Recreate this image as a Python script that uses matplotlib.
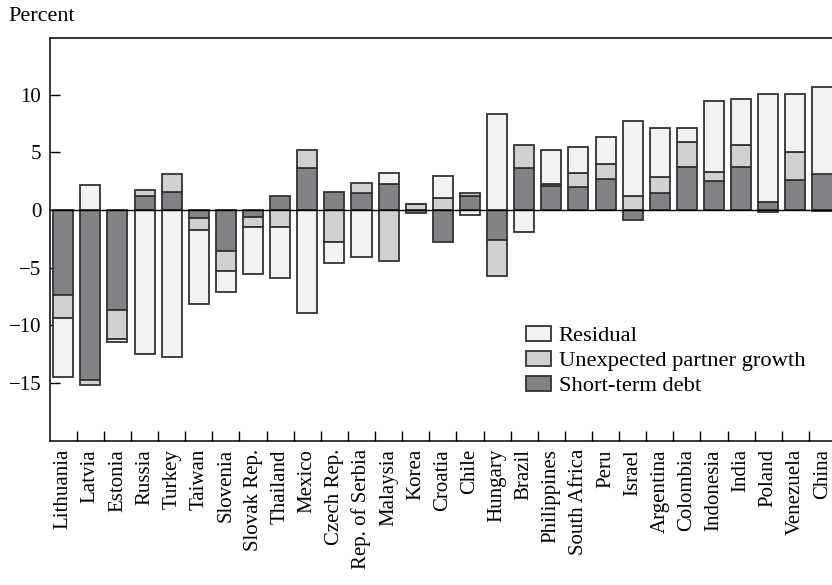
import numpy as np
import matplotlib.pyplot as plt
from matplotlib.patches import Patch

plt.rcParams['font.family'] = ['Liberation Serif', 'DejaVu Serif']
plt.rcParams['font.size'] = 15

countries = ["Lithuania", "Latvia", "Estonia", "Russia", "Turkey", "Taiwan", "Slovenia",
             "Slovak Rep.", "Thailand", "Mexico", "Czech Rep.", "Rep. of Serbia", "Malaysia",
             "Korea", "Croatia", "Chile", "Hungary", "Brazil", "Philippines", "South Africa",
             "Peru", "Israel", "Argentina", "Colombia", "Indonesia", "India", "Poland",
             "Venezuela", "China"]

short_term_debt = [-7.37, -14.73, -8.67, 1.24, 1.56, -0.72, -3.53, -0.58, 1.18, 3.61,
                   1.53, 1.50, 2.25, -0.23, -2.75, 1.22, -2.63, 3.61, 2.08, 2.02,
                   2.69, -0.84, 1.45, 3.76, 2.54, 3.76, 0.72, 2.60, 3.12]
partner_growth = [-1.96, -0.44, -2.55, 0.49, 1.56, -1.01, -1.79, -0.87, -1.45, 1.56,
                  -2.75, 0.81, -4.39, 0.52, 1.04, 0.28, -3.09, 2.03, 0.17, 1.22,
                  1.33, 1.18, 1.44, 2.11, 0.78, 1.85, -0.20, 2.46, -0.08]
residual = [-5.12, 2.20, -0.20, -12.49, -12.72, -6.45, -1.82, -4.10, -4.45, -8.93,
            -1.87, -4.05, 0.93, 0.0, 1.96, -0.45, 8.32, -1.88, 2.95, 2.22,
            2.34, 6.51, 4.22, 1.27, 6.16, 4.04, 9.37, 4.97, 7.52]

y_ticks = [-15, -10, -5, 0, 5, 10]

# couleurs et ordre d'empilement (le plus proche de zero d'abord)
series = [("Short-term debt", short_term_debt, "#818285"),
          ("Unexpected partner growth", partner_growth, "#d0d1d3"),
          ("Residual", residual, "#f1f2f4")]
EDGE = "#333333"

fig = plt.figure(figsize=(8.32, 5.85), dpi=100)
ax = fig.add_axes([0.0597, 0.2467, 0.9452, 0.6878])

x = np.arange(len(countries))
pos = np.zeros(len(countries))
neg = np.zeros(len(countries))
for name, vals, col in series:
    v = np.array(vals)
    bottom = np.where(v >= 0, pos, neg)
    ax.bar(x, v, bottom=bottom, width=0.74, color=col, edgecolor=EDGE, linewidth=1.3, zorder=2)
    pos = pos + np.where(v >= 0, v, 0)
    neg = neg + np.where(v < 0, v, 0)

ax.axhline(0, color="black", linewidth=1.0, zorder=3)

ax.set_xlim(-0.5, len(countries) - 0.5)
ax.set_ylim(-20, 14.9)

# ticks aux frontieres, etiquettes au centre des barres
ax.set_xticks(x[:-1] + 0.5)
ax.set_xticklabels([])
ax.set_xticks(x, minor=True)
ax.set_xticklabels(countries, minor=True, rotation=90, va="top", ha="center")
ax.tick_params(axis="x", which="major", direction="in", length=7, width=1)
ax.tick_params(axis="x", which="minor", length=0, pad=6)
ax.set_yticks(y_ticks)
ax.tick_params(axis="y", direction="in", length=7, width=1, pad=6)

for s in ["top", "left", "bottom"]:
    ax.spines[s].set_linewidth(1.1)
ax.spines["right"].set_visible(False)

handles = [Patch(facecolor=col, edgecolor=EDGE, linewidth=1.3, label=name)
           for name, vals, col in series[::-1]]
ax.legend(handles=handles, loc="upper left", bbox_to_anchor=(0.591, 0.314),
          frameon=False, borderpad=0, handlelength=1.11, handleheight=0.67,
          handletextpad=0.36, labelspacing=0.2, fontsize=16.2)

fig.text(0.01, 0.988, "Percent", ha="left", va="top", fontsize=16)

plt.savefig("out.png")
